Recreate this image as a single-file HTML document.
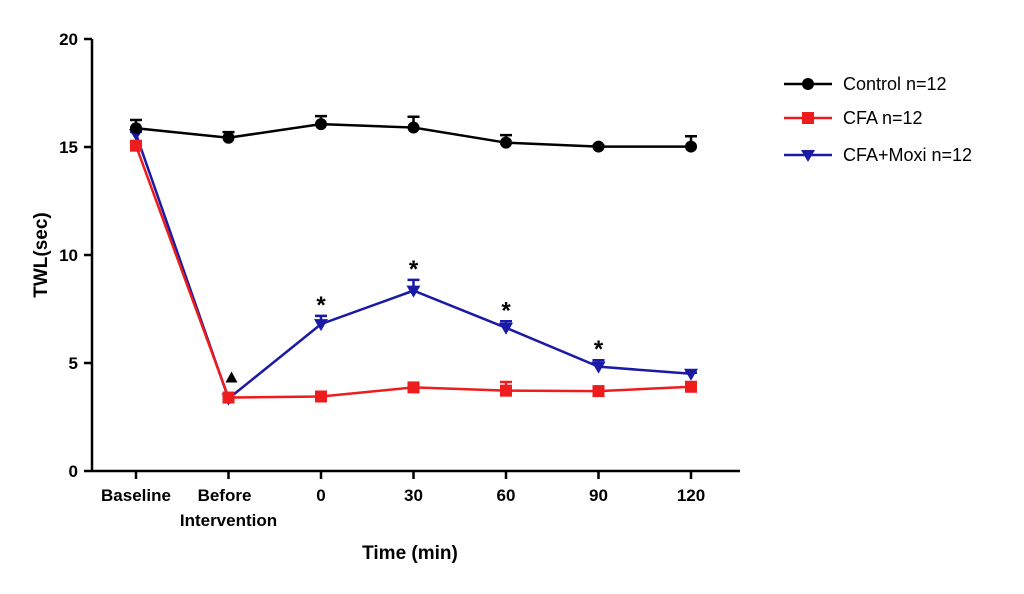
<!DOCTYPE html>
<html><head><meta charset="utf-8"><style>
body{margin:0;background:#fff;}
svg text{font-family:"Liberation Sans",Arial,sans-serif;}
</style></head><body>
<svg width="1024" height="589" viewBox="0 0 1024 589">
<g id="axes"></g><g id="plot"></g><g id="legend"></g>
</svg>
<script>
const categories=["Baseline","Before Intervention","0","30","60","90","120"];
const yTicks=[0,5,10,15,20];
const controlVals=[15.87,15.43,16.06,15.9,15.2,15.02,15.02];
const controlErr=[0.38,0.26,0.37,0.5,0.35,0.05,0.48];
const cfaVals=[15.06,3.4,3.45,3.87,3.72,3.7,3.9];
const cfaErr=[0.1,0.1,0.1,0.1,0.4,0.1,0.1];
const moxiVals=[15.6,3.35,6.8,8.35,6.63,4.83,4.5];
const moxiErr=[0.1,0.1,0.38,0.5,0.3,0.3,0.05];
const starIdx=[2,3,4,5];

const NS="http://www.w3.org/2000/svg";
const X0=136,DX=92.5,Y0=471,PY=21.6;
const xs=i=>X0+i*DX, ys=v=>Y0-v*PY;
function mk(tag,attrs,parent,txt){const e=document.createElementNS(NS,tag);for(const k in attrs)e.setAttribute(k,attrs[k]);if(txt!==undefined)e.textContent=txt;parent.appendChild(e);return e;}
const axes=document.getElementById('axes'),plot=document.getElementById('plot'),leg=document.getElementById('legend');
let a=mk('line',{x1:92,y1:ys(20),x2:92,y2:Y0,stroke:'#000','stroke-width':2.5},axes);


a=mk('line',{x1:92,y1:Y0,x2:740,y2:Y0,stroke:'#000','stroke-width':2.5},axes);


yTicks.forEach(t=>{
 mk('line',{x1:84,y1:ys(t),x2:92,y2:ys(t),stroke:'#000','stroke-width':2.5},axes);
 const tx=mk('text',{x:78,y:ys(t)+6,'text-anchor':'end','font-size':17,'font-weight':'bold'},axes,String(t));
 
 
});
categories.forEach((c,i)=>{
 mk('line',{x1:xs(i),y1:Y0,x2:xs(i),y2:Y0+8,stroke:'#000','stroke-width':2.5},axes);
 let tx;
 if(c==="Before Intervention"){
  tx=mk('text',{x:xs(i),y:501,'text-anchor':'middle','font-size':17,'font-weight':'bold'},axes);
  mk('tspan',{x:xs(i)-4,dy:0},tx,"Before");
  mk('tspan',{x:xs(i),dy:25},tx,"Intervention");
 } else tx=mk('text',{x:xs(i),y:501,'text-anchor':'middle','font-size':17,'font-weight':'bold'},axes,c);
 
 
});
let t=mk('text',{x:0,y:0,transform:'translate(47,255) rotate(-90)','text-anchor':'middle','font-size':19,'font-weight':'bold'},axes,'TWL(sec)');


t=mk('text',{x:410,y:559,'text-anchor':'middle','font-size':19,'font-weight':'bold'},axes,'Time (min)');



function marker(shape,x,y,color,parent){
 if(shape==='circle')return mk('circle',{cx:x,cy:y,r:6,fill:color},parent);
 if(shape==='square')return mk('rect',{x:x-6,y:y-6,width:12,height:12,fill:color},parent);
 return mk('polygon',{points:`${x-7},${y-5} ${x+7},${y-5} ${x},${y+7}`,fill:color},parent);
}
function series(vals,err,color,shape,name){
 const g=mk('g',{},plot);
 
 
 vals.forEach((v,i)=>{
  const top=ys(v+err[i]);
  const e=mk('path',{d:`M${xs(i)},${ys(v)}V${top}M${xs(i)-6},${top}H${xs(i)+6}`,stroke:color,'stroke-width':2.5,fill:'none'},g);
  
  
 });
 const l=mk('polyline',{points:vals.map((v,i)=>xs(i)+','+ys(v)).join(' '),stroke:color,'stroke-width':2.5,fill:'none'},g);
 
 
 vals.forEach((v,i)=>{
  const m=marker(shape,xs(i),ys(v),color,g);
  
  
 });
}
series(moxiVals,moxiErr,'#1a1aa6','tri','cfa-moxi');
series(cfaVals,cfaErr,'#ee1c1c','square','cfa');
series(controlVals,controlErr,'#000','circle','control');
starIdx.forEach(i=>{
 const s=mk('text',{x:xs(i),y:ys(moxiVals[i]+moxiErr[i])-3,'text-anchor':'middle','font-size':24,'font-weight':'bold'},plot,'*');
 
 
});
const tr=mk('polygon',{points:`${xs(1)-6},${ys(4.1)} ${xs(1)+6},${ys(4.1)} ${xs(1)},${ys(4.1)-11}`,fill:'#000',transform:'translate(3,0)'},plot);



const legItems=[["Control n=12",'#000','circle',84],["CFA n=12",'#ee1c1c','square',118],["CFA+Moxi n=12",'#1a1aa6','tri',155]];
legItems.forEach(([lab,c,sh,y])=>{
 const g=mk('g',{},leg);
 
 
 mk('line',{x1:784,y1:y,x2:832,y2:y,stroke:c,'stroke-width':2.5},g);
 marker(sh,808,y,c,g);
 mk('text',{x:843,y:y+6,'font-size':18},g,lab);
});
</script>
</body></html>
